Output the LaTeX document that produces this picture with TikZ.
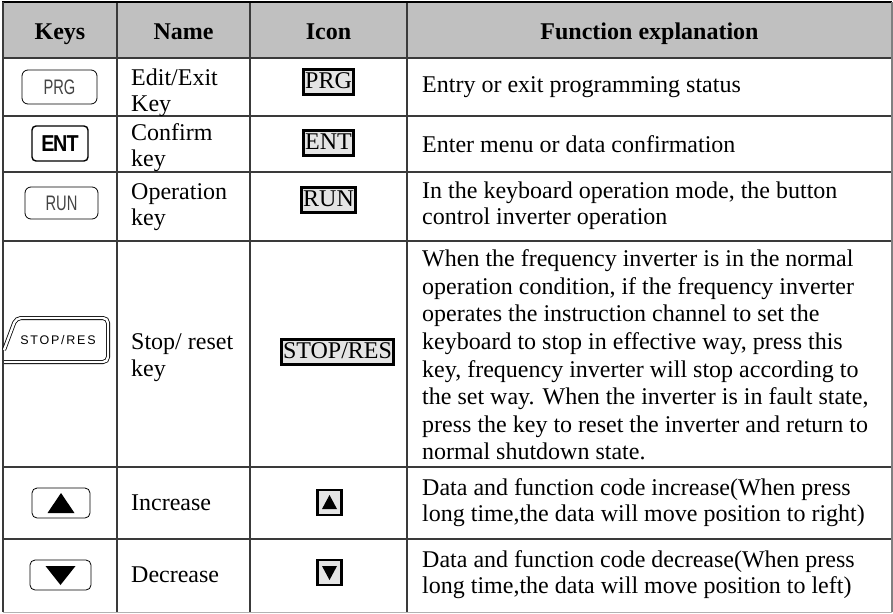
\documentclass[tikz,border=0pt]{standalone}
\usepackage{fontspec}
\setmainfont{Liberation Serif}
\newfontfamily\keyfont{Liberation Sans}
\usepackage{graphicx}
\definecolor{headgray}{HTML}{C0C0C0}
\definecolor{icongray}{HTML}{E4E4E4}
\definecolor{rulegray}{HTML}{3A3A3A}
\definecolor{capink}{HTML}{444444}
\usetikzlibrary{calc, positioning}

% labels printed on the keypad caps
\newcommand{\captext}[1]{\scalebox{0.7}[1]{\fontsize{21}{21}\selectfont\keyfont\color{capink}#1}}

\begin{document}
\begin{tikzpicture}[x=1pt, y=-1pt,
		every node/.style={font=\fontsize{24}{26}\selectfont, inner sep=0pt},
		head/.style={anchor=base, font=\fontsize{24}{26}\selectfont\bfseries},
		txt/.style={anchor=west, align=left},
		icon/.style={draw=black, line width=2.4pt, fill=icongray, inner xsep=1.5pt, inner ysep=2.5pt, text height=16pt, text depth=4pt},
		keycap/.style={draw=black, line width=0.8pt, rounded corners=6pt},
		rule/.style={draw=rulegray, line width=1.3pt}]
			\useasboundingbox (0,0) rectangle (893,613);
			% Header band
			\fill[headgray] (3,2) rectangle (892,58);
			
			% Grid
			\foreach \y in {58,116,172,241,467,539}
				\draw[rule] (3,\y) -- (892,\y);
			\foreach \x in {117,250,407}
				\draw[rule] (\x,2) -- (\x,612);
			\draw[black, line width=1.6pt] (2,2) -- (892,2);
			\draw[rule] (3,2) -- (3,612);
			\draw[draw=gray, line width=1.3pt] (892,2) -- (892,612);
			\draw[draw=gray!60, line width=1pt] (3,612) -- (892,612);
			
			% Header texts
			\node[head] (hkeys) at (60,39) {Keys};
			\node[head] (hname) at (183.5,39) {Name};
			\node[head] (hicon) at (328.5,39) {Icon};
			\node[head] (hfunc) at (649.5,39) {Function explanation};
			
			% Keys column
			\node[keycap, minimum width=75, minimum height=34] (prgkey) at (59.5,87) {\captext{PRG}};
			\node[keycap, line width=1.4pt, rounded corners=4pt, minimum width=56, minimum height=35] (entkey) at (60,143.5)
				{\scalebox{0.86}[1]{\fontsize{23}{23}\selectfont\keyfont\bfseries E\kern-1.5pt N\kern-1pt T}};
			\node[keycap, minimum width=73, minimum height=32] (runkey) at (61.5,203) {\captext{RUN}};
			\draw[line width=0.8pt, double, double distance=2.4pt, rounded corners=5pt]
				(4,350) -- (16,318) -- (108,318) -- (108,362) -- (4,362);
			\node (stopkey) at (58,340) {\fontsize{12.5}{12.5}\selectfont\keyfont\addfontfeature{LetterSpace=14}STOP/RES};
			\node[keycap, rounded corners=5pt, minimum width=58, minimum height=30] (upkey) at (61,503) {};
			\fill ($(upkey.center)+(0,-10)$) -- ++(13.5,20) -- ++(-27,0) -- cycle;
			\node[keycap, rounded corners=5pt, minimum width=61, minimum height=30] (downkey) at (60.5,575) {};
			\fill ($(downkey.center)+(0,10)$) -- ++(15,-19) -- ++(-30,0) -- cycle;
			
			% Name column
			\node[txt] (nprg) at (131,93) {Edit/Exit\\Key};
			\node[txt] (nent) at (131,148) {Confirm\\key};
			\node[txt] (nrun) at (131,207) {Operation\\key};
			\node[txt, font=\fontsize{24}{27}\selectfont] (nstop) at (131,358) {Stop/ reset\\key};
			\node[txt] (nup) at (131,503) {Increase};
			\node[txt] (ndown) at (131,575) {Decrease};
			
			% Icon column
			\node[icon] (iprg) at (328.5,82) {PRG};
			\node[icon] (ient) at (328.5,143) {ENT};
			\node[icon] (irun) at (328.5,200) {RUN};
			\node[icon] (istop) at (337.5,352) {STOP/RES};
			\node[icon, minimum size=24] (iup) at (329.5,502.5) {};
			\fill ($(iup.center)+(0,-7.5)$) -- ++(7.5,14) -- ++(-15,0) -- cycle;
			\node[icon, minimum size=24] (idown) at (329.5,572.5) {};
			\fill ($(idown.center)+(0,7.5)$) -- ++(7.5,-14) -- ++(-15,0) -- cycle;
			
			% Function explanation column
			\node[txt] (fprg) at (422,87) {Entry or exit programming status};
			\node[txt] (fent) at (422,144) {Enter menu or data confirmation};
			\node[txt] (frun) at (422,206) {In the keyboard operation mode, the button\\control inverter operation};
			\node[txt, font=\fontsize{24}{27.6}\selectfont] (fstop) at (422,355) {When the frequency inverter is in the normal\\
				operation condition, if the frequency inverter\\
				operates the instruction channel to set the\\
				keyboard to stop in effective way, press this\\
				key, frequency inverter will stop according to\\
				the set way. When the inverter is in fault state,\\
				press the key to reset the inverter and return to\\
				normal shutdown state.};
			\node[txt] (fup) at (422,503) {Data and function code increase(When press\\long time,the data will move position to right)};
			\node[txt] (fdown) at (422,575) {Data and function code decrease(When press\\long time,the data will move position to left)};
			
		\end{tikzpicture}
\end{document}
